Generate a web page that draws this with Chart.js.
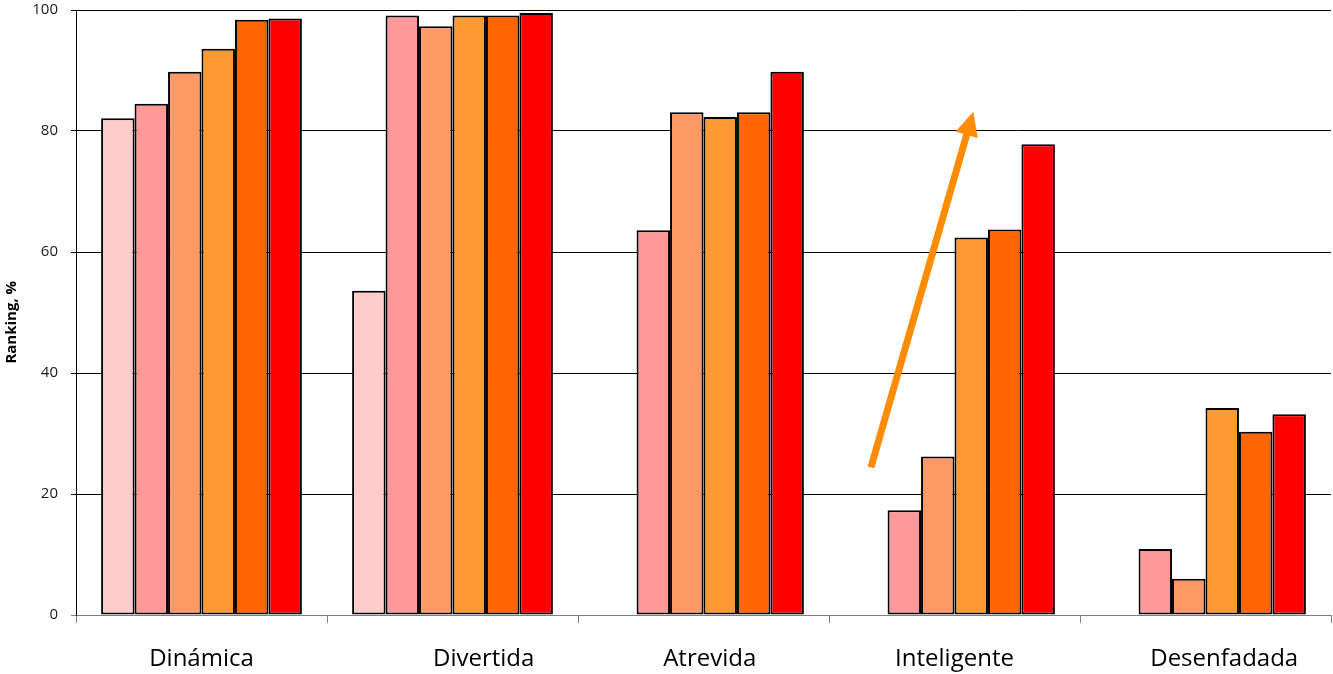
<!DOCTYPE html>
<html>
<head>
<meta charset="utf-8">
<script src="https://cdn.jsdelivr.net/npm/chart.js@4/dist/chart.umd.min.js"></script>
<style>
  html, body { margin: 0; padding: 0; background: #ffffff; }
  #wrap { width: 1333px; height: 674px; }
</style>
</head>
<body>
<div id="wrap"><canvas id="c" width="1333" height="674"></canvas></div>
<script>
// Attributes rated, one group of bars per attribute
const categories = ['Dinámica', 'Divertida', 'Atrevida', 'Inteligente', 'Desenfadada'];

// Ranking (%) per series, in category order; null = no bar
const serie1 = [82.1, 53.6, null, null, null];
const serie2 = [84.5, 99.1, 63.6, 17.3, 10.9];
const serie3 = [89.8, 97.3, 83.1, 26.2, 6.0];
const serie4 = [93.6, 99.1, 82.3, 62.4, 34.2];
const serie5 = [98.4, 99.1, 83.1, 63.7, 30.3];
const serie6 = [98.6, 99.5, 89.8, 77.8, 33.2];

const seriesNames = ['Serie 1', 'Serie 2', 'Serie 3', 'Serie 4', 'Serie 5', 'Serie 6'];
const seriesColors = ['#FFCCCC', '#FF9999', '#FF9966', '#FF9933', '#FF6600', '#FF0000'];

// Y axis ticks
const yTicks = [0, 20, 40, 60, 80, 100];

// Trend arrow, in chart values (category index, ranking)
const arrowX = [2.667, 3.075];
const arrowY = [24.4, 83.2];

const seriesData = [serie1, serie2, serie3, serie4, serie5, serie6];

// Leading spaces nudge some axis labels sideways
const labelIndent = [0, 10, 2, 0, 6];

const trendArrow = {
  id: 'trendArrow',
  afterDatasetsDraw(chart) {
    const { ctx, scales } = chart;
    const x0 = scales.x.getPixelForValue(arrowX[0]);
    const x1 = scales.x.getPixelForValue(arrowX[1]);
    const y0 = scales.y.getPixelForValue(arrowY[0]);
    const y1 = scales.y.getPixelForValue(arrowY[1]);
    const ang = Math.atan2(y1 - y0, x1 - x0);
    const headLen = 24, headHalf = 11.5;
    const bx = x1 - headLen * Math.cos(ang);
    const by = y1 - headLen * Math.sin(ang);
    ctx.save();
    ctx.strokeStyle = '#FF8C00';
    ctx.fillStyle = '#FF8C00';
    ctx.lineWidth = 7;
    ctx.lineCap = 'butt';
    ctx.beginPath();
    ctx.moveTo(x0, y0);
    ctx.lineTo(bx + 2 * Math.cos(ang), by + 2 * Math.sin(ang));
    ctx.stroke();
    ctx.beginPath();
    ctx.moveTo(x1, y1);
    ctx.lineTo(bx + headHalf * Math.sin(ang), by - headHalf * Math.cos(ang));
    ctx.lineTo(bx - headHalf * Math.sin(ang), by + headHalf * Math.cos(ang));
    ctx.closePath();
    ctx.fill();
    ctx.restore();
  }
};

new Chart(document.getElementById('c'), {
  type: 'bar',
  data: {
    labels: categories,
    datasets: seriesData.map((d, i) => ({
      label: seriesNames[i],
      data: d,
      backgroundColor: seriesColors[i],
      borderColor: '#000000',
      borderWidth: 2,
      borderSkipped: false,
      categoryPercentage: 0.8,
      barPercentage: 1.0
    }))
  },
  options: {
    responsive: false,
    animation: false,
    devicePixelRatio: 1,
    layout: { padding: { top: 10, right: 2, left: 0, bottom: 0 } },
    plugins: {
      legend: { display: false },
      tooltip: { enabled: false }
    },
    scales: {
      x: {
        type: 'category',
        offset: true,
        grid: {
          display: true,
          offset: true,
          drawOnChartArea: false,
          drawTicks: true,
          tickLength: 8,
          color: '#7f7f7f',
          lineWidth: 1
        },
        border: { display: true, color: '#7f7f7f', width: 1 },
        ticks: {
          font: { family: 'Open Sans', size: 24 },
          color: '#000000',
          padding: 22,
          maxRotation: 0,
          autoSkip: false,
          callback(value, index) {
            return ' '.repeat(labelIndent[index]) + categories[index];
          }
        },
        afterFit(scale) {
          scale.height = 59;
          scale.paddingLeft = 0;
          scale.paddingRight = 0;
        }
      },
      y: {
        min: 0,
        max: 100,
        afterBuildTicks(scale) { scale.ticks = yTicks.map(v => ({ value: v })); },
        grid: {
          color: ctx => (ctx.tick && ctx.tick.value === 0 ? '#7f7f7f' : '#000000'),
          lineWidth: 1,
          drawTicks: true,
          tickLength: 5
        },
        border: { display: true, color: '#000000', width: 1 },
        ticks: {
          font: { family: 'Open Sans', size: 15 },
          color: '#1a1a1a',
          padding: 13
        },
        title: {
          display: true,
          // trailing spaces move the rotated title slightly lower
          text: 'Ranking, %     ',
          font: { family: 'Open Sans', size: 15, weight: 'bold' },
          color: '#000000',
          padding: { top: 3, bottom: 0 }
        },
        afterFit(scale) {
          scale.width = 76;
          scale.paddingTop = 0;
          scale.paddingBottom = 0;
        }
      }
    }
  },
  plugins: [trendArrow]
});
</script>
</body>
</html>
